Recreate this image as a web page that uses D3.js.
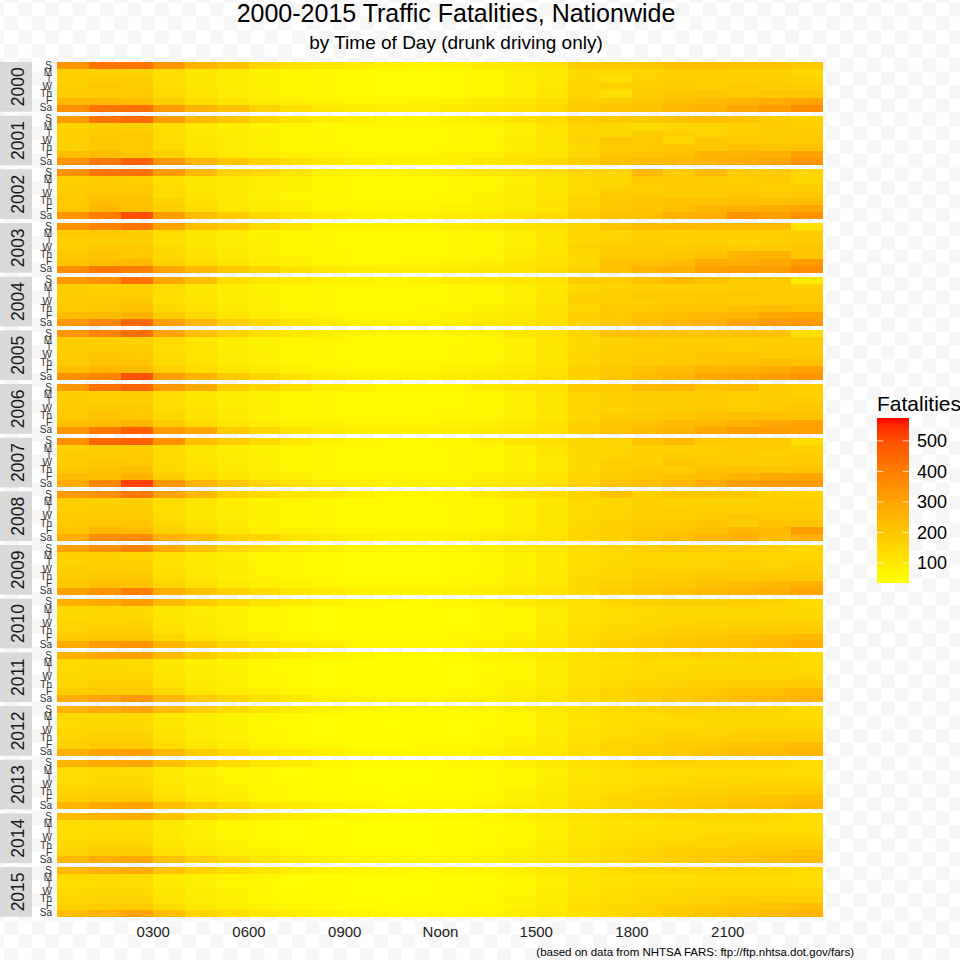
<!DOCTYPE html>
<html lang="en">
<head>
<meta charset="UTF-8">
<title>Traffic Fatalities by Time of Day</title>
<style>
  body { margin: 0; background: #fff; }
  svg { display: block; font-family: "Liberation Sans", Arial, Helvetica, sans-serif; }
</style>
</head>
<body>
<svg id="chart"></svg>
<script src="https://cdn.jsdelivr.net/npm/d3@7/dist/d3.min.js"></script>
<script>
var years = [2000, 2001, 2002, 2003, 2004, 2005, 2006, 2007, 2008, 2009, 2010, 2011, 2012, 2013, 2014, 2015];
var days = ['S', 'M', 'T', 'W', 'Th', 'F', 'Sa'];
var hourTicks = [3, 6, 9, 12, 15, 18, 21];
var hourLabels = ['0300', '0600', '0900', 'Noon', '1500', '1800', '2100'];
var legendTicks = [100, 200, 300, 400, 500];
var fillLimits = [34, 575];   // range of the colour bar

// fatalities per hour (0..23), one row per weekday S..Sa
var f2000 = [
  [340,420,420,330,250,215,155,125,110,90,70,60,75,95,105,120,185,190,200,215,215,210,210,190],
  [170,165,160,135,105,85,70,60,55,50,45,45,50,60,75,95,150,145,160,175,175,170,165,145],
  [165,180,175,135,105,85,70,60,55,50,45,45,50,60,75,100,150,130,165,170,170,170,170,160],
  [175,200,180,140,110,90,70,60,55,50,45,45,50,60,80,105,160,165,170,180,175,185,180,175],
  [180,190,190,145,115,90,75,60,55,50,45,45,50,60,80,105,155,130,180,200,200,190,205,200],
  [240,240,225,175,140,115,95,80,70,60,60,65,75,90,110,130,170,180,200,215,235,255,275,300],
  [350,420,430,320,255,215,170,130,100,85,75,80,95,110,125,145,185,205,215,240,260,290,320,360]
];
var f2001 = [
  [320,420,445,320,240,200,160,115,90,75,60,60,70,95,120,140,185,195,195,215,230,210,180,165],
  [165,175,175,130,100,85,70,60,55,50,50,50,55,65,80,120,160,150,130,150,160,165,185,175],
  [165,185,190,140,105,90,75,65,55,50,50,50,55,65,80,110,150,150,175,170,160,175,175,185],
  [170,200,190,135,110,90,70,60,55,50,50,50,55,65,85,110,165,195,195,160,195,185,180,190],
  [170,195,190,140,110,90,70,60,55,50,50,50,55,60,80,105,140,185,195,200,195,220,205,215],
  [225,230,205,175,120,100,85,75,70,60,55,60,70,80,105,115,155,200,210,225,250,260,265,305],
  [345,410,460,330,255,205,165,130,100,85,75,75,80,105,125,145,180,215,235,240,260,270,290,340]
];
var f2002 = [
  [350,420,425,320,240,165,150,115,80,65,65,75,90,110,120,130,160,160,245,190,240,195,190,160],
  [175,185,175,130,110,95,80,70,60,50,50,50,55,65,80,110,140,150,190,185,180,175,185,150],
  [180,195,190,140,110,95,80,70,60,50,50,50,55,65,85,105,140,160,170,190,195,190,170,175],
  [185,205,200,135,115,100,80,65,55,50,50,50,60,70,85,110,145,190,185,180,185,200,190,200],
  [195,225,215,160,125,100,80,70,60,55,50,50,55,70,90,120,160,195,205,210,220,220,215,225],
  [200,245,220,175,135,110,90,75,65,60,60,60,70,80,95,115,165,205,215,220,250,265,275,290],
  [340,400,500,320,235,190,150,115,95,80,70,75,90,100,120,140,175,215,220,265,275,345,310,350]
];
var f2003 = [
  [345,380,420,295,220,190,145,110,70,65,65,70,85,100,115,130,160,210,235,235,235,235,235,125],
  [185,190,180,140,105,90,70,60,55,50,50,50,55,65,80,110,155,160,175,165,170,170,175,180],
  [170,175,170,130,105,90,70,60,55,50,50,50,55,65,80,110,150,165,175,170,170,160,175,185],
  [175,195,195,140,110,90,75,60,55,50,50,50,55,65,80,105,160,180,180,180,190,185,190,200],
  [190,210,195,150,120,95,75,65,60,50,50,50,55,65,85,115,150,185,185,200,215,255,260,205],
  [210,225,240,165,140,110,85,75,65,55,55,60,70,85,105,120,150,215,215,230,270,275,290,320],
  [360,410,395,300,240,195,160,120,100,85,75,80,85,100,115,135,165,225,250,260,300,320,320,355]
];
var f2004 = [
  [325,350,425,295,220,135,110,90,75,65,60,70,90,95,105,120,185,185,210,245,210,185,185,100],
  [175,170,175,140,105,85,70,60,55,50,50,50,55,65,80,105,145,165,175,175,175,180,180,175],
  [180,175,175,135,110,85,70,60,55,50,50,50,55,65,80,110,160,175,190,190,190,195,190,185],
  [185,185,195,130,115,90,75,60,55,50,50,50,55,60,80,110,165,170,175,195,200,185,185,195],
  [195,200,220,150,120,95,75,65,55,50,50,55,60,70,85,120,160,190,200,205,210,220,230,215],
  [230,230,250,185,145,115,90,75,65,55,55,60,70,80,95,120,175,195,215,225,240,255,285,300],
  [330,375,450,315,245,180,150,115,95,80,75,80,85,100,110,130,165,200,225,245,265,300,325,330]
];
var f2005 = [
  [335,385,430,300,220,175,130,105,85,70,60,60,70,75,110,120,160,215,215,210,210,215,210,130],
  [180,180,175,140,110,85,70,60,55,50,50,50,50,60,75,110,145,165,180,175,175,175,175,175],
  [175,180,180,135,115,85,70,60,55,50,50,50,55,60,80,110,150,165,170,185,185,175,185,185],
  [185,200,190,140,115,90,75,60,55,50,50,50,55,65,80,110,155,170,185,185,200,210,185,190],
  [190,215,215,145,120,95,75,60,55,50,50,55,55,65,80,110,150,175,190,195,210,215,225,220],
  [225,245,240,180,140,110,90,75,65,60,60,60,70,80,95,120,170,195,215,230,250,260,280,305],
  [350,380,490,315,250,195,160,120,95,80,75,75,85,100,110,130,165,205,235,255,285,300,320,340]
];
var f2006 = [
  [330,430,460,330,280,185,155,125,95,75,65,65,70,95,115,130,185,185,235,255,215,235,185,175],
  [175,175,180,140,110,90,70,60,55,50,50,50,50,60,75,110,160,165,175,180,180,170,180,170],
  [180,175,175,135,110,85,70,60,55,50,50,50,50,60,75,110,150,165,180,175,185,170,180,185],
  [185,190,195,135,115,90,75,60,55,50,50,50,55,65,80,110,155,165,175,180,190,180,190,200],
  [190,215,200,150,120,95,70,60,55,50,50,55,55,65,80,105,155,185,185,200,215,220,220,215],
  [220,230,250,185,140,110,90,75,65,60,60,60,65,75,90,120,165,200,210,235,240,260,290,300],
  [330,410,470,320,290,185,155,120,95,80,75,75,80,95,110,125,170,210,235,250,285,320,320,310]
];
var f2007 = [
  [350,450,465,350,220,185,145,110,75,60,55,55,65,85,115,130,155,165,210,240,190,185,185,130],
  [175,180,180,140,110,85,70,60,55,50,50,50,55,60,80,110,145,160,170,170,175,185,180,170],
  [185,180,185,140,110,90,70,60,55,50,50,50,55,60,80,105,150,155,165,180,175,185,170,180],
  [180,195,195,140,115,90,75,60,55,50,50,50,55,60,80,100,150,175,165,205,185,175,180,185],
  [195,210,220,150,120,95,75,65,55,50,50,50,55,60,75,100,145,170,185,180,205,210,205,205],
  [235,225,255,180,140,115,90,75,65,60,55,60,65,75,90,115,160,180,200,215,230,250,280,290],
  [280,370,520,330,250,200,160,120,100,85,75,75,80,95,110,130,165,210,225,245,275,310,320,325]
];
var f2008 = [
  [325,350,410,300,245,165,145,110,100,75,60,55,60,95,120,135,160,215,175,200,200,195,165,160],
  [180,175,175,135,105,90,70,60,55,50,50,50,55,60,75,105,140,150,165,160,165,160,175,175],
  [170,180,180,130,105,85,70,60,55,50,50,50,55,60,75,105,140,155,165,175,165,165,175,170],
  [195,185,185,135,110,90,70,60,55,50,50,50,55,60,75,105,145,160,170,165,185,200,185,190],
  [190,205,205,145,115,90,70,60,55,50,50,50,55,60,75,105,140,165,175,195,210,185,215,210],
  [210,240,230,175,135,110,85,75,65,55,55,55,60,70,85,110,155,175,190,205,220,245,240,320],
  [280,360,370,265,235,175,155,115,95,80,70,70,75,90,105,120,155,175,200,225,250,265,230,265]
];
var f2009 = [
  [300,350,380,280,215,160,130,100,80,65,55,55,60,75,95,115,140,160,175,190,185,185,175,155],
  [165,165,160,125,95,80,65,55,50,45,45,45,50,55,70,95,130,140,155,150,160,160,160,150],
  [160,170,165,120,100,80,65,55,50,45,45,45,50,55,70,95,130,145,150,160,160,165,160,165],
  [175,180,170,130,100,85,65,55,50,45,45,45,50,55,70,100,135,150,160,165,170,175,170,180],
  [180,195,190,135,110,85,70,55,50,45,45,45,50,60,75,100,140,155,170,180,190,195,200,195],
  [200,220,215,160,125,100,80,70,60,55,50,55,60,70,85,110,150,170,185,195,215,230,240,265],
  [305,345,400,275,215,170,140,110,90,75,65,70,75,85,100,120,150,180,200,215,235,255,265,290]
];
var f2010 = [
  [265,285,320,240,185,150,120,95,75,60,55,55,60,70,90,110,130,150,165,175,175,170,165,145],
  [150,150,145,110,90,75,60,50,45,42,40,42,45,55,65,90,120,130,140,145,150,150,150,145],
  [145,155,150,110,90,75,60,50,45,42,40,42,45,55,65,90,120,135,145,150,150,150,155,150],
  [155,160,160,115,95,75,60,50,45,42,40,42,45,55,65,90,125,140,150,155,165,160,165,170],
  [165,180,175,125,100,80,65,55,45,42,42,45,50,55,70,95,130,150,160,170,180,185,185,190],
  [185,200,195,150,115,95,75,65,55,50,50,50,55,65,80,105,140,160,175,185,200,215,225,245],
  [280,320,345,255,200,160,130,100,85,70,60,65,70,80,95,115,140,165,185,205,220,235,245,265]
];
var f2011 = [
  [260,290,305,235,180,145,115,90,75,60,50,50,55,70,85,105,125,145,160,170,170,165,160,140],
  [145,145,140,110,85,70,55,50,45,40,40,40,45,50,65,85,115,130,140,140,145,145,145,140],
  [145,150,145,105,85,70,55,50,45,40,38,40,45,50,65,85,120,130,140,145,150,150,150,145],
  [150,160,155,115,90,75,60,50,45,40,40,40,45,55,65,90,120,135,145,150,160,160,160,165],
  [160,175,170,120,95,80,60,50,45,42,40,42,45,55,70,90,125,145,155,165,175,180,180,185],
  [180,195,190,145,110,90,75,60,55,50,45,50,55,65,75,100,135,155,170,180,195,210,220,240],
  [270,300,330,245,190,155,125,100,80,70,60,60,65,80,90,110,135,160,180,195,215,230,240,260]
];
var f2012 = [
  [255,280,300,230,180,145,115,90,75,60,50,50,55,65,85,105,125,145,160,170,170,165,160,140],
  [145,145,140,105,85,70,55,50,45,40,38,40,45,50,65,85,115,130,135,140,145,145,145,140],
  [140,150,145,105,85,70,55,50,45,40,38,40,45,50,65,85,115,130,140,145,145,150,145,145],
  [150,155,155,115,90,75,60,50,45,40,38,40,45,55,65,90,120,135,145,150,160,160,160,165],
  [160,170,170,120,95,75,60,50,45,40,40,42,45,55,70,90,125,140,155,165,170,180,180,185],
  [175,190,190,140,110,90,70,60,50,45,45,50,55,60,75,100,135,155,165,180,190,205,215,235],
  [265,300,315,240,185,150,120,95,80,65,60,60,65,75,90,110,135,155,175,190,210,225,235,250]
];
var f2013 = [
  [250,280,295,225,175,140,110,90,70,55,50,50,55,65,80,100,120,140,155,165,165,160,155,135],
  [140,140,135,100,80,65,55,45,42,38,36,38,42,50,60,80,110,125,130,135,140,140,140,135],
  [135,145,140,100,80,65,55,45,42,38,36,38,42,50,60,80,110,125,135,140,140,145,140,140],
  [145,150,150,110,85,70,55,48,42,38,36,38,42,50,62,85,115,130,140,145,155,155,155,160],
  [155,165,165,115,90,75,60,50,42,40,38,40,45,52,68,88,120,135,150,160,165,175,175,180],
  [170,185,185,135,105,85,70,58,50,45,45,48,52,60,72,95,130,150,160,175,185,200,210,225],
  [255,285,300,225,180,145,115,95,78,65,58,58,62,72,88,105,130,150,170,185,200,215,225,240]
];
var f2014 = [
  [235,260,270,210,165,130,105,85,68,55,48,48,52,62,78,95,115,135,150,160,160,155,150,130],
  [135,135,130,95,78,62,52,45,40,36,34,36,40,48,58,78,105,120,125,130,135,135,135,130],
  [130,140,135,95,78,62,52,45,40,36,35,36,40,48,58,78,105,120,130,135,135,140,135,135],
  [140,145,145,105,82,68,55,46,40,36,35,36,40,48,60,82,110,125,135,140,150,150,150,155],
  [150,160,160,110,88,72,58,48,42,38,36,38,42,50,65,85,115,130,145,155,160,170,170,175],
  [165,180,180,130,100,82,68,56,48,44,42,46,50,58,70,92,125,145,155,170,180,195,200,215],
  [245,275,285,215,170,140,110,90,75,62,55,55,60,70,85,100,125,145,165,180,195,210,220,230]
];
var f2015 = [
  [240,265,280,215,170,135,108,88,70,56,50,50,54,64,80,98,118,138,152,162,162,158,152,135],
  [138,138,132,98,80,64,54,46,41,37,35,37,41,49,59,80,108,122,128,133,138,138,138,133],
  [133,142,138,98,80,64,54,46,41,37,35,37,41,49,59,80,108,122,132,138,138,142,138,138],
  [142,148,148,108,84,70,56,47,41,37,36,37,41,49,61,84,112,128,138,143,153,153,153,158],
  [153,163,163,113,90,74,59,49,43,39,37,39,43,51,66,87,118,133,148,158,163,173,173,180],
  [170,185,185,135,103,84,70,57,49,45,43,47,51,59,71,94,128,148,160,175,185,200,208,225],
  [230,260,300,225,160,130,105,88,73,62,55,56,60,70,86,102,127,150,170,190,205,220,235,255]
];

var byYear = [f2000, f2001, f2002, f2003, f2004, f2005, f2006, f2007,
              f2008, f2009, f2010, f2011, f2012, f2013, f2014, f2015];

// flatten to cells
var cells = [];
years.forEach(function (yr, yi) {
  byYear[yi].forEach(function (row, di) {
    row.forEach(function (v, h) {
      cells.push({ year: yr, yi: yi, day: days[di], hour: h, value: v });
    });
  });
});

var W = 960, H = 960;
var svg = d3.select('#chart').attr('width', W).attr('height', H);

/********** background (faint checker as in the picture) **********/
var defs = svg.append('defs');
var chk = 13.7;
var pat = defs.append('pattern')
  .attr('id', 'checker')
  .attr('patternUnits', 'userSpaceOnUse')
  .attr('x', 4.2).attr('y', 2.9)
  .attr('width', chk * 2).attr('height', chk * 2);
pat.append('rect').attr('width', chk * 2).attr('height', chk * 2).attr('fill', '#ffffff');
pat.append('rect').attr('x', chk).attr('y', 0).attr('width', chk).attr('height', chk).attr('fill', '#f6f6f6');
pat.append('rect').attr('x', 0).attr('y', chk).attr('width', chk).attr('height', chk).attr('fill', '#f6f6f6');
svg.append('rect').attr('width', W).attr('height', H).attr('fill', 'url(#checker)');

/********** scales **********/
var panelTop = 62, panelStep = 53.67, panelH = 49.7;
var x = d3.scaleLinear().domain([0, 24]).range([57, 823]);
var yDay = d3.scaleBand().domain(days).range([0, panelH]);
var color = d3.scaleSequential(d3.interpolateLab('yellow', 'red')).domain(fillLimits);

/********** facets **********/
var facet = svg.selectAll('g.facet')
  .data(years)
  .enter()
  .append('g')
  .attr('class', 'facet')
  .attr('transform', function (d, i) { return 'translate(0,' + (panelTop + i * panelStep) + ')'; });

facet.selectAll('rect.cell')
  .data(function (d, i) { return cells.filter(function (c) { return c.yi === i; }); })
  .enter()
  .append('rect')
  .attr('class', 'cell')
  .attr('x', function (d) { return x(d.hour); })
  .attr('y', function (d) { return yDay(d.day); })
  .attr('width', function (d) { return x(d.hour + 1) - x(d.hour); })
  .attr('height', yDay.bandwidth())
  .attr('fill', function (d) { return color(d.value); })
  .attr('shape-rendering', 'crispEdges');

// strip on the left with the year
facet.append('rect')
  .attr('x', 0).attr('y', 0)
  .attr('width', 32).attr('height', panelH)
  .attr('fill', '#d9d9d9');
facet.append('text')
  .attr('transform', 'translate(18,' + (panelH / 2) + ') rotate(-90)')
  .attr('text-anchor', 'middle')
  .attr('dy', '0.36em')
  .style('font-size', '17.5px')
  .style('fill', '#1a1a1a')
  .text(function (d) { return d; });

// weekday labels
var yAxis = d3.axisLeft(yDay).tickSize(0).tickPadding(0);
facet.append('g')
  .attr('transform', 'translate(52,0)')
  .call(yAxis)
  .call(function (g) { g.select('.domain').remove(); })
  .selectAll('text')
  .style('font-size', '10px')
  .style('font-family', '"Liberation Sans", Arial, sans-serif')
  .style('fill', '#333');

/********** x axis **********/
var xAxis = d3.axisBottom(x)
  .tickValues(hourTicks)
  .tickFormat(function (d, i) { return hourLabels[i]; })
  .tickSize(0)
  .tickPadding(0);
svg.append('g')
  .attr('transform', 'translate(0,926)')
  .call(xAxis)
  .call(function (g) { g.select('.domain').remove(); })
  .selectAll('text')
  .style('font-size', '15px')
  .style('font-family', '"Liberation Sans", Arial, sans-serif')
  .style('fill', '#222');

/********** titles **********/
svg.append('text')
  .attr('x', 456).attr('y', 22)
  .attr('text-anchor', 'middle')
  .style('font-size', '25px')
  .style('fill', '#000')
  .text('2000-2015 Traffic Fatalities, Nationwide');
svg.append('text')
  .attr('x', 456).attr('y', 49)
  .attr('text-anchor', 'middle')
  .style('font-size', '19px')
  .style('fill', '#000')
  .text('by Time of Day (drunk driving only)');
svg.append('text')
  .attr('x', 854).attr('y', 956)
  .attr('text-anchor', 'end')
  .style('font-size', '11.5px')
  .style('fill', '#000')
  .text('(based on data from NHTSA FARS: ftp://ftp.nhtsa.dot.gov/fars)');

/********** legend **********/
var barX = 877, barW = 32, barTop = 418, barBot = 583;
var lg = defs.append('linearGradient')
  .attr('id', 'fillbar')
  .attr('x1', 0).attr('y1', 1).attr('x2', 0).attr('y2', 0);
d3.range(0, 1.0001, 0.05).forEach(function (t) {
  lg.append('stop').attr('offset', t).attr('stop-color', color.interpolator()(t));
});
var yLeg = d3.scaleLinear().domain(fillLimits).range([barBot, barTop]);

svg.append('text')
  .attr('x', 877).attr('y', 411)
  .style('font-size', '21px')
  .style('fill', '#000')
  .text('Fatalities');
svg.append('rect')
  .attr('x', barX).attr('y', barTop)
  .attr('width', barW).attr('height', barBot - barTop)
  .attr('fill', 'url(#fillbar)');
var lt = svg.selectAll('g.ltick')
  .data(legendTicks)
  .enter()
  .append('g')
  .attr('class', 'ltick')
  .attr('transform', function (d) { return 'translate(0,' + yLeg(d) + ')'; });
lt.append('line').attr('x1', barX).attr('x2', barX + 6.4).attr('stroke', '#fff').attr('stroke-opacity', 0.7);
lt.append('line').attr('x1', barX + barW - 6.4).attr('x2', barX + barW).attr('stroke', '#fff').attr('stroke-opacity', 0.7);
lt.append('text')
  .attr('x', 917).attr('dy', '0.36em')
  .style('font-size', '18px')
  .style('fill', '#000')
  .text(function (d) { return d; });
</script>
</body>
</html>
